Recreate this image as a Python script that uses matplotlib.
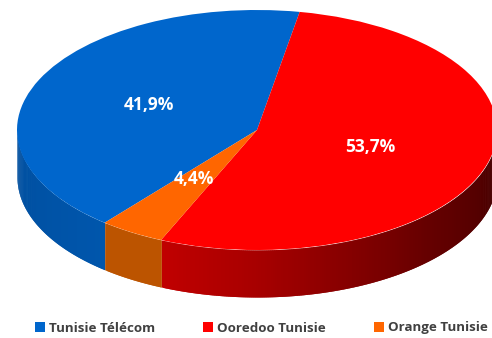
"""Tunisian operator market share, drawn as a tilted pie with a side wall."""
import matplotlib
matplotlib.use("Agg")
import matplotlib.pyplot as plt
import numpy as np
from matplotlib.colors import LinearSegmentedColormap

operators = ["Tunisie Télécom", "Ooredoo Tunisie", "Orange Tunisie"]
shares = [41.9, 53.7, 4.4]
colors = ["#0066CC", "#FF0000", "#FF6600"]
wall_colors = [
    ["#004E9E", "#0056AC"],
    ["#C00000", "#A80000", "#860000", "#660000", "#540000", "#3C0000"],
    ["#BC5400", "#BC5400"],
]

W, H = 492, 338
CX, CY, RX, RY, DEPTH = 257, 130, 240, 120, 47
START = -129.4


def px(x, y):
    return (x - CX) / RX, (CY - y) / RY


plt.rcParams["font.family"] = ["Open Sans", "DejaVu Sans"]
fig = plt.figure(figsize=(W / 100, H / 100), dpi=100)
ax = fig.add_axes([0, 0, 1, 1])

wedges, _, pcts = ax.pie(
    shares, colors=colors, labels=operators, labeldistance=None,
    startangle=START, counterclock=False,
    autopct=lambda v: f"{v:.1f}%".replace(".", ","),
    textprops={"color": "white", "fontweight": "bold", "fontsize": 12.5},
)
for t, pos in zip(pcts, [(149, 105), (370, 147), (194, 179)]):
    t.set_position(px(*pos))

ax.set_aspect("auto")
ax.set_xlim(px(0, 0)[0], px(W, 0)[0])
ax.set_ylim(px(0, H)[1], px(0, 0)[1])

# side wall, only the front half of the ellipse shows
edges = START - np.cumsum([0] + shares) * 3.6
for i, shades in enumerate(wall_colors):
    cmap = LinearSegmentedColormap.from_list(f"wall{i}", shades)
    for k in (0, 360, 720):
        lo, hi = max(edges[i + 1] + k, 180), min(edges[i] + k, 360)
        if hi <= lo:
            continue
        steps = np.linspace(lo, hi, int((hi - lo) * 2) + 2)
        for j in range(len(steps) - 1):
            # run each strip into the next one so no seams show
            end = steps[min(j + 2, len(steps) - 1)]
            th = np.radians(np.linspace(steps[j], end, 6))
            ax.fill_between(np.cos(th), np.sin(th), np.sin(th) - DEPTH / RY,
                            color=cmap(j / max(1, len(steps) - 2)), lw=0, zorder=0)

ax.legend(handles=wedges, labels=operators, ncol=3, frameon=False,
          loc="center", bbox_to_anchor=(0.5315, 1 - 328 / H),
          labelcolor="#404040", handlelength=0.75, handleheight=0.75,
          handletextpad=0.3, columnspacing=3.6,
          prop={"weight": "bold", "size": 9.6})

fig.savefig("out.png", dpi=100)
